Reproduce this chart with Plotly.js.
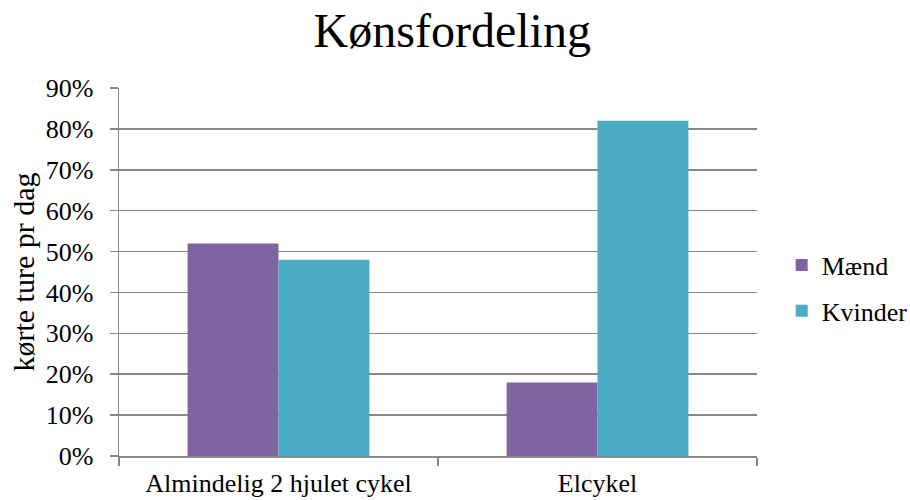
<!DOCTYPE html>
<html>
<head>
<meta charset="utf-8">
<script src="https://cdn.plot.ly/plotly-3.0.1.min.js"></script>
<style>html,body{margin:0;padding:0;background:#fff;}#chart{width:910px;height:500px;}</style>
</head>
<body>
<div id="chart"></div>
<script>
const categories = ["Almindelig 2 hjulet cykel", "Elcykel"];
const maend = [0.52, 0.18];
const kvinder = [0.48, 0.82];
const seriesNames = ["Mænd", "Kvinder"];
const yTickVals = [0, 0.1, 0.2, 0.3, 0.4, 0.5, 0.6, 0.7, 0.8, 0.9];
const yTickText = ["0%", "10%", "20%", "30%", "40%", "50%", "60%", "70%", "80%", "90%"];

const font = "Times New Roman";
const traces = [
  {type: "bar", name: seriesNames[0], legendgroup: "m", x: categories, y: maend, marker: {color: "#8064A2"}, hoverinfo: "none"},
  {type: "bar", name: seriesNames[1], legendgroup: "k", x: categories, y: kvinder, marker: {color: "#4BACC6"}, hoverinfo: "none"}
];
const layout = {
  width: 910, height: 500,
  margin: {l: 119, r: 153, t: 88, b: 44, pad: 0, autoexpand: false},
  paper_bgcolor: "#fff", plot_bgcolor: "#fff",
  font: {family: font, size: 26, color: "#000"},
  title: {text: "Kønsfordeling", font: {family: font, size: 48, color: "#000"}, x: 0.497, xanchor: "center", y: 0.94, yanchor: "middle"},
  barmode: "group", bargap: 0.43, bargroupgap: 0,
  showlegend: true,
  legend: {xref: "container", yref: "container", x: 0.859, xanchor: "left", y: 0.424, yanchor: "middle",
           font: {family: font, size: 26, color: "#000"}, tracegroupgap: 9, itemwidth: 30},
  xaxis: {
    type: "category", showgrid: false, showline: true, linecolor: "#888", linewidth: 1.5,
    ticks: "outside", tickson: "boundaries", ticklen: 8, tickcolor: "#888", tickwidth: 1.5,
    tickfont: {family: font, size: 26, color: "#000"}, ticklabelstandoff: 3,
    zeroline: false, fixedrange: true, automargin: false
  },
  yaxis: {
    range: [0, 0.9], tickvals: yTickVals, ticktext: yTickText,
    showgrid: true, gridcolor: "#888", gridwidth: 1.5,
    showline: true, linecolor: "#888", linewidth: 1.5,
    ticks: "outside", ticklen: 8, tickcolor: "#888", tickwidth: 1.5,
    tickfont: {family: font, size: 26, color: "#000"}, ticklabelstandoff: 11, zeroline: false,
    title: {text: "kørte ture pr dag", font: {family: font, size: 30, color: "#000"}, standoff: 2},
    fixedrange: true, automargin: false
  }
};
Plotly.newPlot("chart", traces, layout, {displayModeBar: false, staticPlot: true});
</script>
</body>
</html>
